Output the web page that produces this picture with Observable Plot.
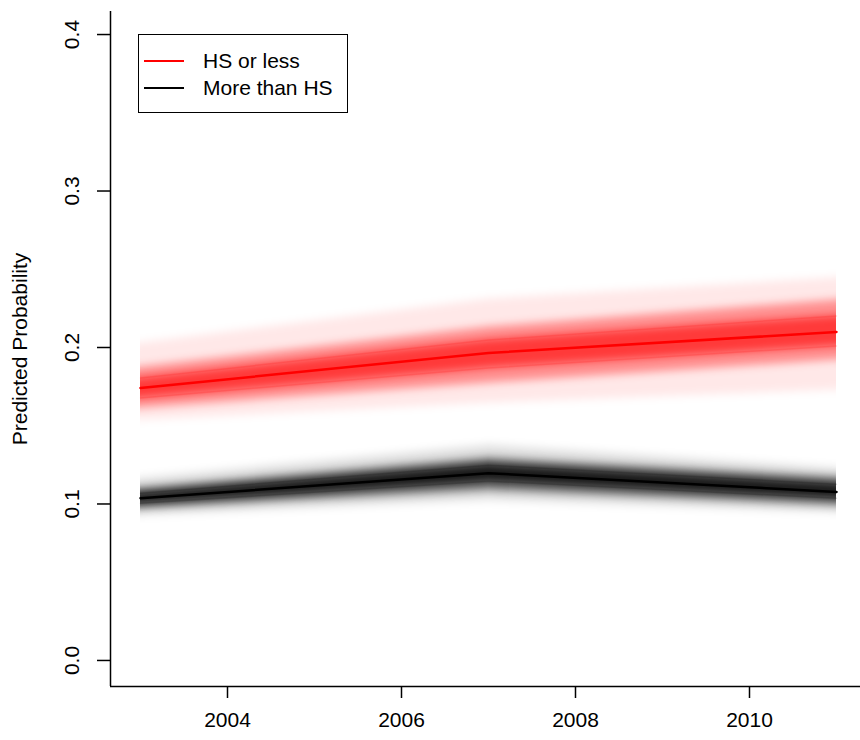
<!DOCTYPE html>
<html>
<head>
<meta charset="utf-8">
<script src="https://cdn.jsdelivr.net/npm/d3@7"></script>
<script src="https://cdn.jsdelivr.net/npm/@observablehq/plot@0.6"></script>
<style>
  html, body { margin: 0; padding: 0; background: #fff; }
  #wrap { position: relative; width: 860px; height: 740px; font-family: "Liberation Sans", Arial, Helvetica, sans-serif; }
  #legend { position: absolute; left: 138px; top: 34px; width: 210px; height: 79px; border: 1.5px solid #000; background: #fff; box-sizing: border-box; }
  .li { position: absolute; left: 0; font-size: 21px; color: #000; line-height: 1; }
  .sw { position: absolute; left: 5px; width: 40px; height: 0; border-top: 2px solid; }
  .lt { position: absolute; left: 64px; white-space: nowrap; }
</style>
</head>
<body>
<div id="wrap">
  <div id="chart"></div>
  <div id="legend"></div>
</div>
<script>
// ---- data ----
const years = [2003, 2007, 2011];

const redMax = [0.2029, 0.2310, 0.2445];
const redQ90 = [0.1875, 0.2131, 0.2304];
const redQ75 = [0.1805, 0.2048, 0.2202];
const redMed = [0.1741, 0.1965, 0.2099];
const redQ25 = [0.1677, 0.1869, 0.2010];
const redQ10 = [0.1613, 0.1773, 0.1920];
const redMin = [0.1536, 0.1645, 0.1728];

const blackMax = [0.1165, 0.1376, 0.1229];
const blackQ90 = [0.1101, 0.1293, 0.1171];
const blackQ75 = [0.1069, 0.1248, 0.1126];
const blackMed = [0.1037, 0.1197, 0.1077];
const blackQ25 = [0.1005, 0.1146, 0.1037];
const blackQ10 = [0.0973, 0.1088, 0.0992];
const blackMin = [0.0928, 0.1024, 0.0947];

const seriesNames = ["HS or less", "More than HS"];
const seriesColors = ["#ff0000", "#000000"];

const xTicks = [2004, 2006, 2008, 2010];
const yTicks = [0.0, 0.1, 0.2, 0.3, 0.4];
const yLabel = "Predicted Probability";

// ---- build tables ----
function band(lo, hi) { return years.map((x, i) => ({x, lo: lo[i], hi: hi[i]})); }
function line(v) { return years.map((x, i) => ({x, y: v[i]})); }

const xDomain = [2002.6552, 2011.2759];
const yDomain = [-0.01664, 0.41472];
const FS = 21;

function bandMarks(color, ops, sets) {
  const [mn, q10, q25, med, q75, q90, mx] = sets;
  return [
    Plot.areaY(band(mn, mx), {x: "x", y1: "lo", y2: "hi", fill: color, fillOpacity: ops[0]}),
    Plot.areaY(band(q10, q90), {x: "x", y1: "lo", y2: "hi", fill: color, fillOpacity: ops[1]}),
    Plot.areaY(band(q25, q75), {x: "x", y1: "lo", y2: "hi", fill: color, fillOpacity: ops[2]}),
    ...[q25, q75].map(v => Plot.line(line(v), {x: "x", y: "y", stroke: color, strokeOpacity: 0.15, strokeWidth: 1.5})),
    Plot.line(line(med), {x: "x", y: "y", stroke: color, strokeWidth: 2.5})
  ];
}

const chart = Plot.plot({
  width: 860,
  height: 740,
  marginLeft: 110,
  marginRight: 0,
  marginTop: 11,
  marginBottom: 54,
  style: {fontFamily: '"Liberation Sans", Arial, Helvetica, sans-serif', fontSize: FS + "px", background: "#fff", color: "#000", overflow: "visible"},
  x: {domain: xDomain},
  y: {domain: yDomain},
  marks: [
    ...bandMarks(seriesColors[0], [0.09, 0.38, 0.6], [redMin, redQ10, redQ25, redMed, redQ75, redQ90, redMax]),
    ...bandMarks(seriesColors[1], [0.12, 0.5, 0.8], [blackMin, blackQ10, blackQ25, blackMed, blackQ75, blackQ90, blackMax]),
    Plot.ruleX([xDomain[0]], {stroke: "#000", strokeWidth: 1.5}),
    Plot.ruleY([yDomain[0]], {stroke: "#000", strokeWidth: 1.5}),
    Plot.axisX({ticks: xTicks, tickSize: 12, tickPadding: 14, tickFormat: d => String(d), strokeWidth: 1.5, strokeOpacity: 1, fontSize: FS, fill: "#000", label: null, anchor: "bottom"}),
    Plot.axisY({ticks: yTicks, tickSize: 13, tickFormat: () => "", strokeWidth: 1.5, strokeOpacity: 1, label: null, anchor: "left"}),
    Plot.text(yTicks, {y: d => d, text: d => d3.format(".1f")(d), frameAnchor: "left", dx: -38, rotate: -90, textAnchor: "middle", lineAnchor: "middle", fontSize: FS, fill: "#000"}),
    Plot.text([yLabel], {text: d => d, frameAnchor: "left", dx: -90, rotate: -90, textAnchor: "middle", lineAnchor: "middle", fontSize: FS, fill: "#000"})
  ]
});

// soften the band edges vertically only (visual style)
const ns = "http://www.w3.org/2000/svg";
const defs = document.createElementNS(ns, "defs");
const filt = document.createElementNS(ns, "filter");
filt.setAttribute("id", "vblur");
filt.setAttribute("x", "-2%"); filt.setAttribute("y", "-60%");
filt.setAttribute("width", "104%"); filt.setAttribute("height", "220%");
const blur = document.createElementNS(ns, "feGaussianBlur");
blur.setAttribute("stdDeviation", "0 4");
filt.appendChild(blur);
defs.appendChild(filt);
chart.insertBefore(defs, chart.firstChild);
chart.querySelectorAll('g[aria-label="area"]').forEach(g => g.setAttribute("filter", "url(#vblur)"));

document.getElementById("chart").appendChild(chart);

// legend
const leg = document.getElementById("legend");
seriesNames.forEach((name, i) => {
  const top = 26 + i * 27;
  const sw = document.createElement("div");
  sw.className = "sw";
  sw.style.top = (top - 1) + "px";
  sw.style.borderTopColor = seriesColors[i];
  leg.appendChild(sw);
  const t = document.createElement("div");
  t.className = "li lt";
  t.style.top = (top - 11) + "px";
  t.textContent = name;
  leg.appendChild(t);
});
</script>
</body>
</html>
